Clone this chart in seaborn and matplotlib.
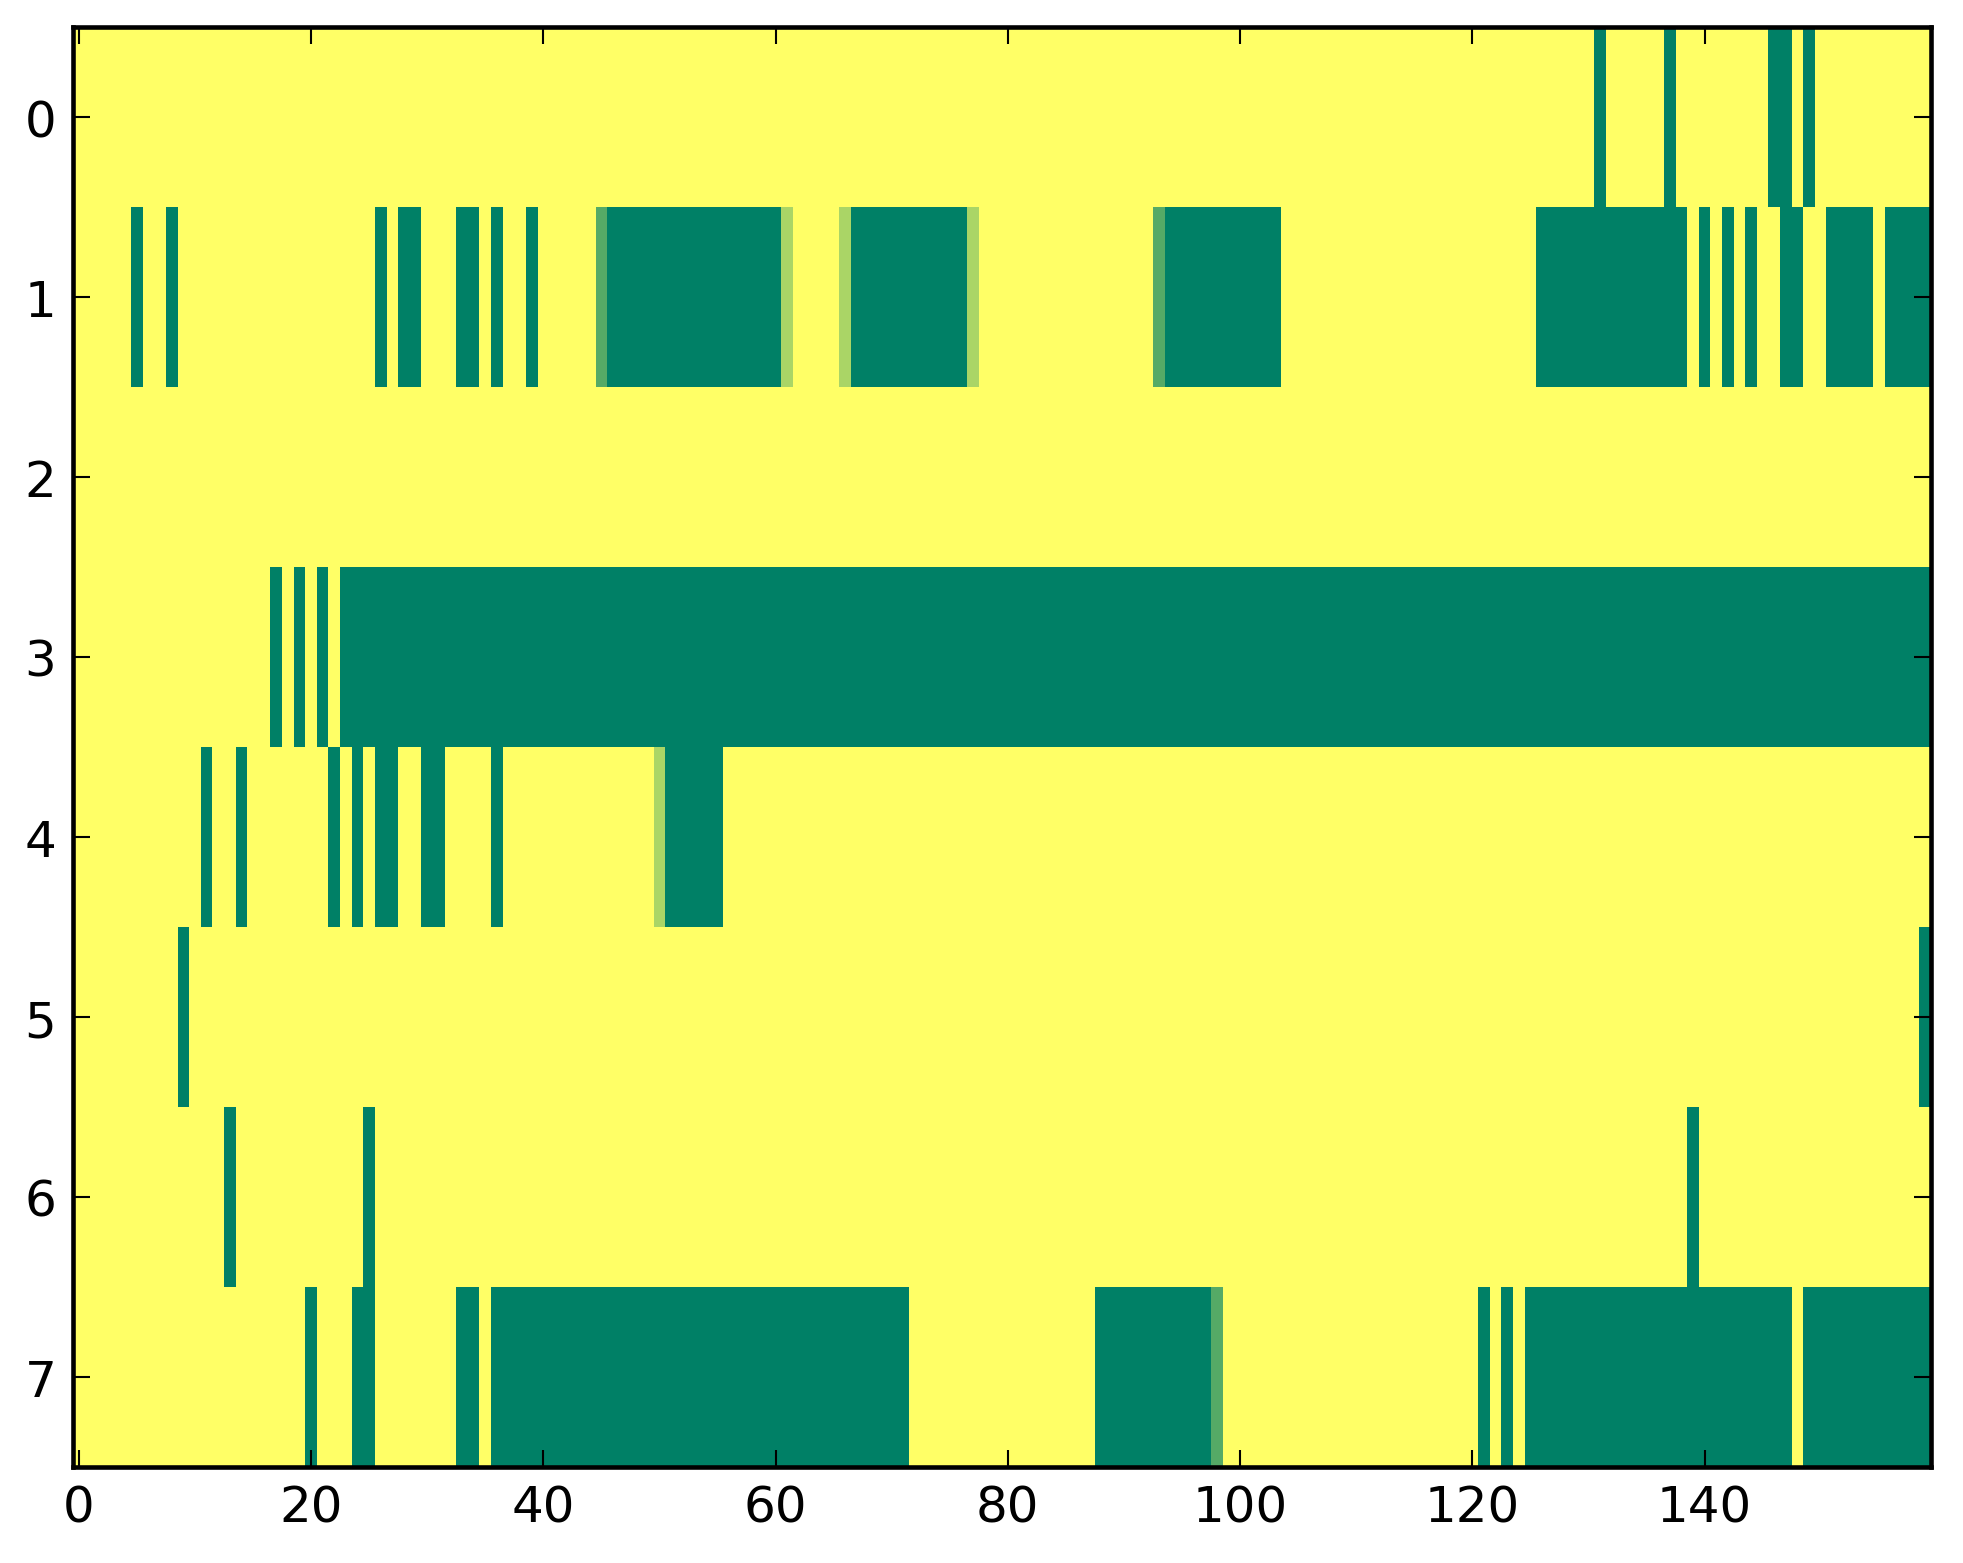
import numpy as np
import pandas as pd
import matplotlib
matplotlib.use('Agg')
import matplotlib.pyplot as plt
import seaborn as sns

# grid size
n_rows = 8
n_cols = 160

# runs of "on" cells per row, (first col, last col)
row0_on = [(131, 131), (137, 137), (146, 147), (149, 149)]
row1_on = [(5, 5), (8, 8), (26, 26), (28, 29), (33, 34), (36, 36), (39, 39),
           (46, 60), (67, 76), (94, 103), (126, 138), (140, 140), (142, 142),
           (144, 144), (147, 148), (151, 154), (156, 159)]
row2_on = []
row3_on = [(17, 17), (19, 19), (21, 21), (23, 159)]
row4_on = [(11, 11), (14, 14), (22, 22), (24, 24), (26, 27), (30, 31),
           (36, 36), (51, 55)]
row5_on = [(9, 9), (159, 159)]
row6_on = [(13, 13), (25, 25), (139, 139)]
row7_on = [(20, 20), (24, 25), (33, 34), (36, 71), (88, 97), (121, 121),
           (123, 123), (125, 147), (149, 159)]

# cells with in-between values (row, col, value)
partial_cells = [(1, 45, 2/3), (1, 61, 1/3), (1, 66, 1/3), (1, 77, 1/3),
                 (1, 93, 2/3), (4, 50, 1/3), (7, 98, 2/3)]

xtick_vals = [0, 20, 40, 60, 80, 100, 120, 140]
ytick_vals = [0, 1, 2, 3, 4, 5, 6, 7]


def montar_matriz():
    linhas = [row0_on, row1_on, row2_on, row3_on, row4_on, row5_on, row6_on, row7_on]
    m = np.zeros((n_rows, n_cols))
    for i, runs in enumerate(linhas):
        for a, b in runs:
            m[i, a:b + 1] = 1.0
    for r, c, v in partial_cells:
        m[r, c] = v
    return pd.DataFrame(m)


sns.set_style('white')
plt.rcParams.update({
    'font.family': ['DejaVu Sans'],
    'text.color': 'black',
    'xtick.color': 'black',
    'ytick.color': 'black',
    'axes.edgecolor': 'black',
    'axes.axisbelow': False,
})

dados = montar_matriz()

W, H = 1963, 1564
fig = plt.figure(figsize=(W / 300, H / 300), dpi=300)
ax = fig.add_axes([73 / W, 96 / H, 1858 / W, 1440 / H])

sns.heatmap(dados, cmap='summer_r', vmin=0, vmax=1, cbar=False, ax=ax,
            xticklabels=False, yticklabels=False)
ax.set_axisbelow(False)

ax.set_xticks(np.array(xtick_vals) + 0.5)
ax.set_xticklabels([str(v) for v in xtick_vals], rotation=0)
ax.set_yticks(np.array(ytick_vals) + 0.5)
ax.set_yticklabels([str(v) for v in ytick_vals], rotation=0)
ax.set_xlabel('')
ax.set_ylabel('')

for s in ax.spines.values():
    s.set_visible(True)
    s.set_linewidth(1.1)
    s.set_color('black')
    s.set_zorder(5)

ax.tick_params(which='major', direction='in', top=True, right=True,
               bottom=True, left=True, length=4, width=0.5,
               labelsize=12, pad=4, colors='black')

fig.savefig('out.png', dpi=300)
